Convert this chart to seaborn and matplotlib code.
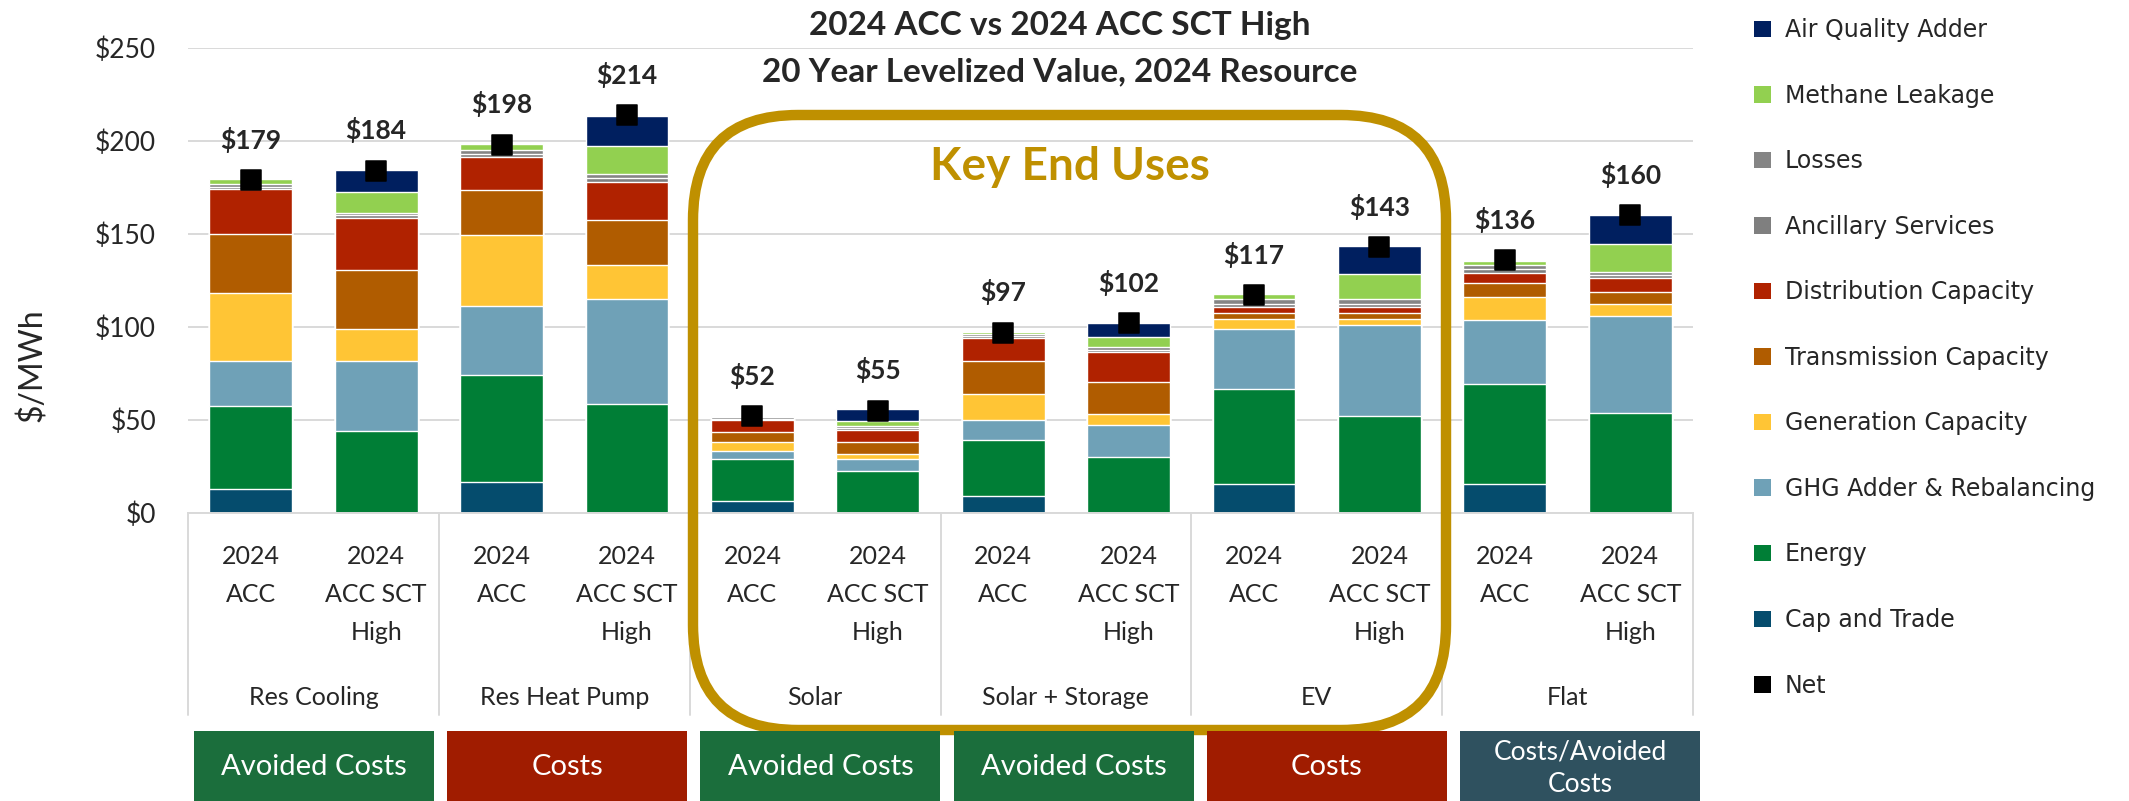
import numpy as np
import pandas as pd
import matplotlib.pyplot as plt
import seaborn as sns
from matplotlib.patches import FancyBboxPatch, Rectangle, Patch
from matplotlib.transforms import IdentityTransform

# -------------------------------
# Data
# -------------------------------
groups = ["Res Cooling", "Res Heat Pump", "Solar", "Solar + Storage", "EV", "Flat"]
scenarios = ["2024\nACC", "2024\nACC SCT\nHigh"]
box_labels = ["Avoided Costs", "Costs", "Avoided Costs", "Avoided Costs", "Costs", "Costs/Avoided\nCosts"]

cap_trade   = [13, 0, 16.5, 0, 6.5, 0, 9, 0, 15.5, 0, 15.5, 0]
energy      = [44.5, 44, 57.5, 58.5, 22.5, 22.5, 30, 30, 51, 52, 54, 54]
ghg         = [24, 37.5, 37.5, 56.5, 4.5, 6.5, 11, 17.5, 32.5, 49, 34.5, 52]
gen_cap     = [37, 17.5, 38, 18.5, 4.5, 2.5, 14, 5.5, 5.5, 3.5, 12, 6.5]
trans_cap   = [31.5, 31.5, 24, 24, 5.5, 6.5, 17.5, 17.5, 3, 3, 7.5, 6.5]
dist_cap    = [24, 28, 18, 20.5, 6.5, 6.5, 12.5, 16, 3, 3, 5.5, 7.5]
ancillary   = [1.5, 1.5, 1.5, 2, 0.7, 1, 1, 1, 2, 2, 2, 1.5]
losses      = [1.5, 1.5, 2, 2, 0.7, 1.5, 1.5, 1.5, 2.5, 2.5, 2.5, 1.5]
methane     = [2.5, 11, 3.5, 15.5, 1, 2.5, 1, 5.5, 2.5, 13.5, 2, 15]
air_quality = [0, 12, 0, 16, 0, 6.5, 0, 7.5, 0, 15, 0, 15.5]
net         = [179, 184, 198, 214, 52, 55, 97, 102, 117, 143, 136, 160]

# bottom -> top
components = [
    ("Cap and Trade", cap_trade, "#054C6D"),
    ("Energy", energy, "#007E36"),
    ("GHG Adder & Rebalancing", ghg, "#6FA1B7"),
    ("Generation Capacity", gen_cap, "#FFC535"),
    ("Transmission Capacity", trans_cap, "#B05C00"),
    ("Distribution Capacity", dist_cap, "#B02200"),
    ("Ancillary Services", ancillary, "#7F7F7F"),
    ("Losses", losses, "#858585"),
    ("Methane Leakage", methane, "#92D050"),
    ("Air Quality Adder", air_quality, "#001F5F"),
]

bar_ids = [f"{g}|{s}" for g in groups for s in scenarios]
df = pd.DataFrame({"bar": bar_ids, "net": net})
cum = np.zeros(len(bar_ids))
for name, vals, col in components:
    cum = cum + np.array(vals)
    df[name] = cum

# -------------------------------
# Figure
# -------------------------------
sns.set_style("white")
plt.rcParams["font.family"] = ["Lato", "DejaVu Sans"]

W, H = 2129, 801
fig = plt.figure(figsize=(W / 100, H / 100), dpi=100)
ax = fig.add_axes([188 / W, 288 / H, 1505 / W, 465 / H])

# stacked bars: draw cumulative totals from top to bottom
for name, vals, col in reversed(components):
    sns.barplot(data=df, x="bar", y=name, color=col, saturation=1, width=0.66,
                errorbar=None, ax=ax, zorder=2)

sns.scatterplot(data=df, x="bar", y="net", marker="s", s=190, color="black",
                edgecolor="black", ax=ax, zorder=5, legend=False)
for i, v in enumerate(net):
    ax.annotate(f"${v}", (i, v), xytext=(0, 29), textcoords="offset points",
                ha="center", va="center", fontsize=19, fontweight="bold")

ax.set_xlim(-0.5, len(bar_ids) - 0.5)
ax.set_ylim(0, 250)
ax.set_yticks(range(0, 251, 50))
ax.set_yticklabels([f"${t}" for t in range(0, 251, 50)], fontsize=19)
ax.tick_params(axis="y", length=0, pad=23)
ax.set_xticks(range(len(bar_ids)))
ax.set_xticklabels([])
ax.tick_params(axis="x", length=0)
ax.set_xlabel("")
ax.set_ylabel("")
ax.yaxis.grid(True, color="#D9D9D9", lw=1.4, zorder=0)
ax.set_axisbelow(True)
for side in ["left", "right", "top"]:
    ax.spines[side].set_visible(False)
ax.spines["bottom"].set_color("#D9D9D9")
ax.spines["bottom"].set_linewidth(1.4)

# multi-level category axis
tr = ax.get_xaxis_transform()
for i, b in enumerate(bar_ids):
    ax.text(i, -0.068, b.split("|")[1], transform=tr, ha="center", va="top",
            fontsize=18, linespacing=1.8, multialignment="center")
for g, name in enumerate(groups):
    ax.text(2 * g + 0.5, -0.396, name, transform=tr, ha="center", va="center", fontsize=18)
for xb in np.arange(-0.5, len(bar_ids), 2):
    ax.plot([xb, xb], [0, -0.434], transform=tr, color="#D9D9D9", lw=1.4, clip_on=False)

# titles
fig.text(1060 / W, 1 - 25 / H, "2024 ACC vs 2024 ACC SCT High", ha="center", va="center",
         fontsize=24, fontweight="bold")
fig.text(1060 / W, 1 - 72 / H, "20 Year Levelized Value, 2024 Resource", ha="center", va="center",
         fontsize=24, fontweight="bold")
fig.text(32 / W, 1 - 365 / H, "$/MWh", rotation=90, ha="center", va="center", fontsize=23)

# key end uses frame
gold = "#BF9000"
frame = FancyBboxPatch((693, H - 730), 753, 615, boxstyle="round,pad=0,rounding_size=105",
                       transform=IdentityTransform(), fill=False, edgecolor=gold, lw=7.5, zorder=3)
fig.add_artist(frame)
fig.text(1070 / W, 1 - 167 / H, "Key End Uses", ha="center", va="center", fontsize=33,
         fontweight="bold", color=gold)

# cost-type boxes below the axis
box_colors = {"Avoided Costs": "#1B6E3C", "Costs": "#A01C00", "Costs/Avoided\nCosts": "#2F515F"}
for k, lab in enumerate(box_labels):
    x0 = 194 + k * 253.2
    fig.add_artist(Rectangle((x0, 0), 240, H - 731, transform=IdentityTransform(),
                             facecolor=box_colors[lab], edgecolor="none", zorder=4))
    two = "\n" in lab
    fig.text((x0 + 120) / W, (H - (768 if two else 767)) / H, lab, ha="center", va="center",
             color="white", fontsize=19 if two else 21, linespacing=1.35, zorder=5)

# legend
handles = [Patch(facecolor=col, edgecolor="none", label=name) for name, vals, col in reversed(components)]
handles.append(Patch(facecolor="black", edgecolor="none", label="Net"))
fig.legend(handles=handles, loc="upper left", bbox_to_anchor=(1733 / W, 1.004), frameon=False,
           prop={"family": "DejaVu Sans", "size": 17}, labelspacing=1.76,
           handlelength=0.7, handleheight=0.7, handletextpad=0.6)

fig.savefig("out.png", dpi=100)
